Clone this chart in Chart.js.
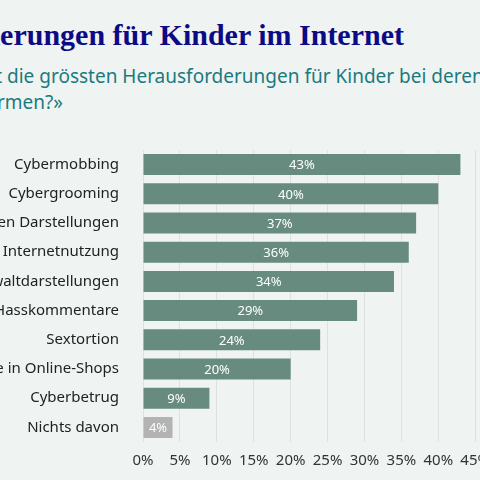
<!DOCTYPE html><html><head><meta charset="utf-8"><script src="https://cdn.jsdelivr.net/npm/chart.js"></script>
<style>body{margin:0;width:480px;height:480px;overflow:hidden;background:#eff4f2;position:relative;font-family:"Noto Sans",sans-serif}
.t{position:absolute;white-space:nowrap}
</style></head><body>
<div class="t" style="right:76px;top:18px;font:bold 30px 'Liberation Serif',serif;color:#0d0a85">Die grössten Herausforderungen für Kinder im Internet</div>
<div class="t" style="left:7px;top:63px;font:19px 'Noto Sans';color:#1b7a80"><span style="position:absolute;right:100%">«Was sind aus Ihrer Sicht&nbsp;</span>die grössten Herausforderungen für Kinder bei deren Nutzung von Online-Plattformen</div>
<div class="t" style="right:417px;top:89px;font:19px 'Noto Sans';color:#1b7a80">Online-Plattformen?»</div>
<div style="position:absolute;left:-100px;top:125px;width:600px;height:355px"><canvas id="c"></canvas></div>
<script>
const categories=["Cybermobbing","Cybergrooming","Konsum von sexuellen Darstellungen","Exzessive Internetnutzung","Konsum von Gewaltdarstellungen","Hasskommentare","Sextortion","Ungewollte Käufe in Online-Shops","Cyberbetrug","Nichts davon"];
const values=[43,40,37,36,34,29,24,20,9,4];
const tickLabels=["0%","5%","10%","15%","20%","25%","30%","35%","40%","45%"];
const colors=values.map((v,i)=>i===9?"#b3b3b3":"#678c7f");
const lbl={id:"lbl",afterDatasetsDraw(ch){const c=ch.ctx;ch.getDatasetMeta(0).data.forEach((b,i)=>{c.save();c.fillStyle="#fff";c.font="13px 'Noto Sans'";c.textAlign="center";c.textBaseline="middle";c.fillText(values[i]+"%",(b.base+b.x)/2,b.y+1);c.restore();});}};
new Chart(document.getElementById("c"),{type:"bar",data:{labels:categories,datasets:[{data:values,backgroundColor:colors,barPercentage:0.72,categoryPercentage:1}]},
options:{indexAxis:"y",responsive:true,maintainAspectRatio:false,animation:false,layout:{padding:{top:8,right:15}},
plugins:{legend:{display:false},tooltip:{enabled:false}},
scales:{x:{min:0,max:45,ticks:{stepSize:5,color:"#333",font:{size:15,family:"Noto Sans"},padding:10,callback:(v,i)=>tickLabels[i]},grid:{color:"#dde2e0",drawTicks:false},border:{display:false}},
y:{afterFit(s){s.width=243},ticks:{color:"#222",font:{size:15,family:"Noto Sans"},padding:16},grid:{display:false},border:{display:false}}}},plugins:[lbl]});
</script></body></html>
